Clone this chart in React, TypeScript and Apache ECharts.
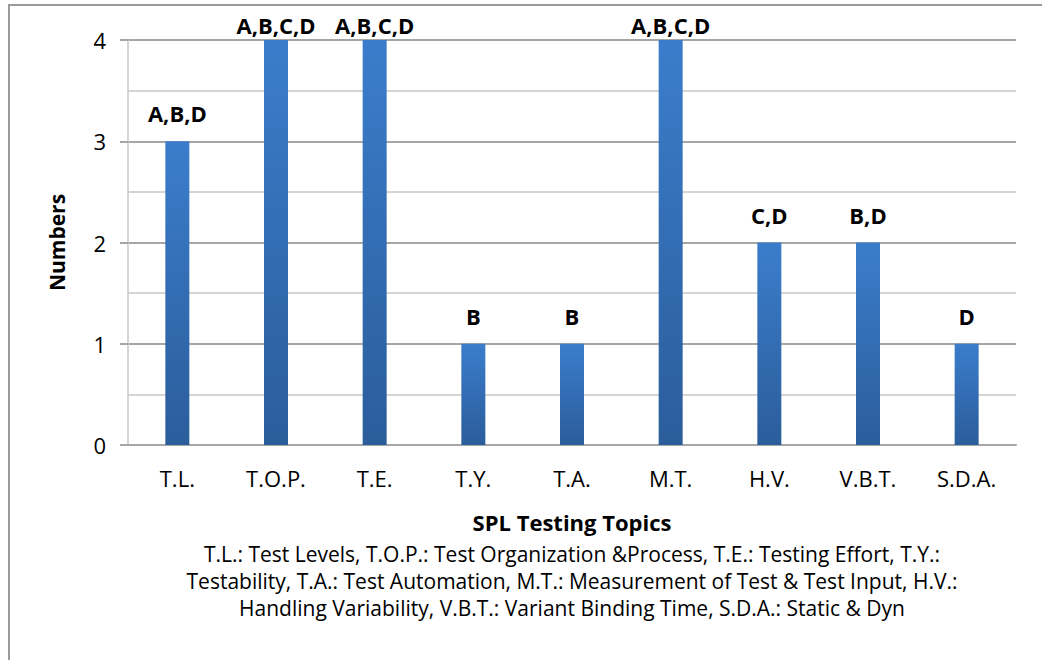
import React, { useEffect, useRef } from "react";
import * as echarts from "echarts";

const categories = ["T.L.", "T.O.P.", "T.E.", "T.Y.", "T.A.", "M.T.", "H.V.", "V.B.T.", "S.D.A."];
const values = [3, 4, 4, 1, 1, 4, 2, 2, 1];
const barLabels = ["A,B,D", "A,B,C,D", "A,B,C,D", "B", "B", "A,B,C,D", "C,D", "B,D", "D"];
const yTicks = [0, 1, 2, 3, 4];
const xTitle = "SPL Testing Topics";
const yTitle = "Numbers";
const noteLines = [
  "T.L.: Test Levels, T.O.P.: Test Organization &Process, T.E.: Testing Effort, T.Y.:",
  "Testability, T.A.: Test Automation, M.T.: Measurement of Test & Test Input, H.V.:",
  "Handling Variability, V.B.T.: Variant Binding Time, S.D.A.: Static & Dyn",
];

const FONT = "'Open Sans', Lato, sans-serif";

export default function App() {
  const ref = useRef<HTMLDivElement>(null);
  useEffect(() => {
    if (!ref.current) return;
    const chart = echarts.init(ref.current, undefined, { renderer: "svg" });
    const yMax = yTicks[yTicks.length - 1];
    chart.setOption({
      animation: false,
      backgroundColor: "#ffffff",
      textStyle: { fontFamily: FONT },
      grid: { left: 128, top: 40, right: 26, bottom: 215, containLabel: false },
      xAxis: {
        type: "category",
        data: categories,
        name: xTitle,
        nameLocation: "middle",
        nameGap: 66,
        nameTextStyle: { fontFamily: FONT, fontSize: 22, fontWeight: "bold", color: "#000" },
        axisLine: { show: true, lineStyle: { color: "#a6a6a6", width: 2 } },
        axisTick: { show: false },
        axisLabel: { margin: 22, fontSize: 22, color: "#000", fontFamily: FONT },
      },
      yAxis: {
        type: "value",
        min: yTicks[0],
        max: yMax,
        interval: 1,
        name: yTitle,
        nameLocation: "middle",
        nameGap: 61,
        nameRotate: 90,
        nameTextStyle: { fontFamily: FONT, fontSize: 21, fontWeight: "bold", color: "#000" },
        axisLine: { show: true, lineStyle: { color: "#c8c8c8", width: 1.5 } },
        axisTick: { show: true, inside: false, length: 8, lineStyle: { color: "#a6a6a6", width: 2 } },
        axisLabel: { margin: 22, fontSize: 22, color: "#000", fontFamily: FONT },
        splitLine: { show: true, lineStyle: { color: "#a6a6a6", width: 2 } },
        minorTick: { show: false, splitNumber: 2 },
        minorSplitLine: { show: true, lineStyle: { color: "#d4d4d4", width: 2 } },
      },
      series: [
        {
          type: "bar",
          data: values.map((v, i) => ({
            value: v,
            label: {
              show: true,
              position: "top",
              distance: v >= yMax ? 4 : 17,
              formatter: barLabels[i],
            },
          })),
          barWidth: 24,
          itemStyle: {
            color: new echarts.graphic.LinearGradient(0, 0, 0, 1, [
              { offset: 0, color: "#3b7dcb" },
              { offset: 1, color: "#2b5d9b" },
            ]),
          },
          label: {
            show: true,
            position: "top",
            fontSize: 22,
            fontWeight: "bold",
            color: "#000",
            fontFamily: FONT,
          },
        },
      ],
      graphic: [
        {
          type: "rect",
          shape: { x: 9, y: 5, width: 1100, height: 700 },
          style: { fill: "none", stroke: "#9a9a9a", lineWidth: 2 },
          silent: true,
        },
        ...noteLines.map((t, i) => ({
          type: "text",
          x: 572,
          y: 554 + i * 27,
          style: {
            text: t,
            fontSize: 21,
            fontFamily: FONT,
            fill: "#000",
            textAlign: "center",
            textVerticalAlign: "middle",
          },
        })),
      ],
    });
    return () => chart.dispose();
  }, []);
  return (
    <div
      ref={ref}
      style={{ position: "fixed", left: 0, top: 0, width: 1042, height: 660 }}
    />
  );
}
